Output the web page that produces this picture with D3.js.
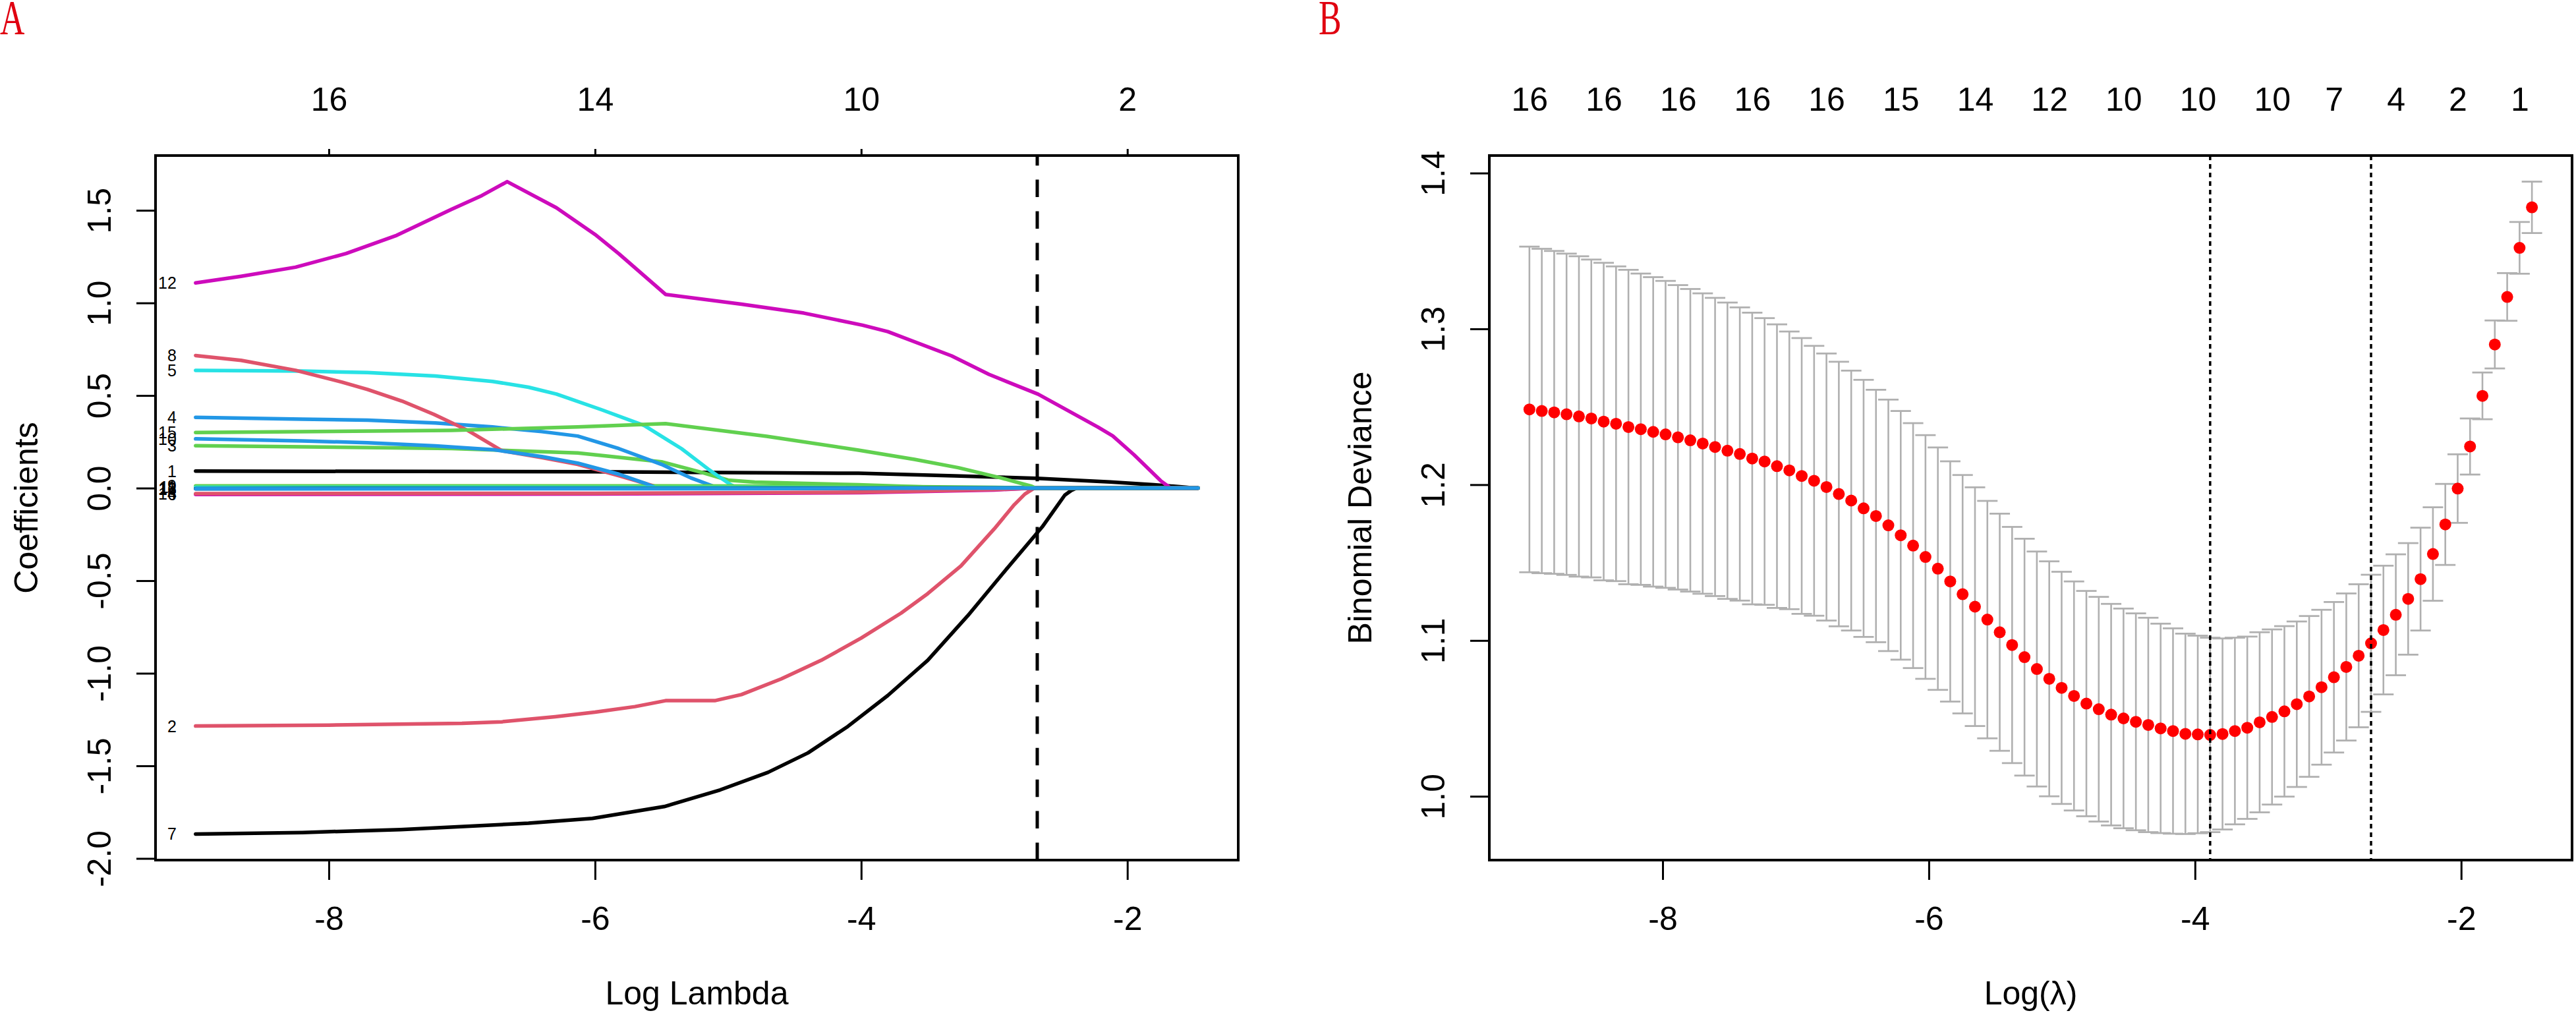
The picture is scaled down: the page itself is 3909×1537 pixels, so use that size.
<!DOCTYPE html>
<html><head><meta charset="utf-8">
<script src="https://cdn.jsdelivr.net/npm/d3@7"></script>
<style>
html,body{margin:0;padding:0;background:#fff;}
svg{display:block;}
text{font-family:"Liberation Sans",Arial,sans-serif;fill:#000;}
</style>
</head><body>
<svg id="c" width="3909" height="1537"></svg>
<script>
// ---------------- DATA ----------------
// log(lambda) sequence (glmnet order, largest lambda first)
const logLambda = [
-1.468,-1.561,-1.654,-1.747,-1.840,-1.933,-2.026,-2.119,-2.212,-2.305,
-2.398,-2.491,-2.584,-2.677,-2.770,-2.863,-2.956,-3.049,-3.142,-3.235,
-3.328,-3.421,-3.514,-3.607,-3.700,-3.793,-3.886,-3.979,-4.072,-4.165,
-4.258,-4.351,-4.444,-4.537,-4.630,-4.723,-4.816,-4.909,-5.002,-5.095,
-5.188,-5.281,-5.374,-5.467,-5.560,-5.653,-5.746,-5.839,-5.932,-6.025,
-6.118,-6.211,-6.304,-6.397,-6.490,-6.583,-6.676,-6.769,-6.862,-6.955,
-7.048,-7.141,-7.234,-7.327,-7.420,-7.513,-7.606,-7.699,-7.792,-7.885,
-7.978,-8.071,-8.164,-8.257,-8.350,-8.443,-8.536,-8.629,-8.722,-8.815,
-8.908,-9.001];
// cross-validated binomial deviance (mean)
const cvm = [
1.378,1.352,1.3205,1.290,1.257,1.2245,1.1975,1.1745,1.1555,1.1394,
1.1267,1.1165,1.1067,1.0982,1.0902,1.0830,1.0764,1.0700,1.0641,1.0591,
1.0545,1.0509,1.0475,1.0440,1.0419,1.0400,1.0394,1.0397,1.0401,1.0419,
1.0436,1.0458,1.0478,1.0500,1.0524,1.0559,1.0595,1.0644,1.0696,1.0754,
1.0817,1.0893,1.0971,1.1053,1.1134,1.1217,1.1297,1.1379,1.1461,1.1536,
1.1609,1.1675,1.1739,1.1799,1.1848,1.1898,1.1940,1.1985,1.2025,1.2056,
1.2092,1.2119,1.2149,1.2168,1.2197,1.2218,1.2242,1.2264,1.2285,1.2304,
1.2323,1.2339,1.2356,1.2370,1.2391,1.2405,1.2425,1.2438,1.2452,1.2464,
1.2473,1.2483];
// standard error of cv deviance
const cvsd = [
0.0165,0.0166,0.0153,0.0154,0.0150,0.0180,0.0220,0.0260,0.0300,0.0330,
0.0358,0.0388,0.0413,0.0440,0.0459,0.0472,0.0483,0.0497,0.0516,0.0531,
0.0547,0.0562,0.0578,0.0585,0.0599,0.0613,0.0624,0.0634,0.0643,0.0659,
0.0672,0.0688,0.0696,0.0705,0.0711,0.0721,0.0723,0.0735,0.0745,0.0754,
0.0754,0.0760,0.0758,0.0761,0.0762,0.0766,0.0765,0.0771,0.0778,0.0782,
0.0786,0.0798,0.0807,0.0810,0.0825,0.0834,0.0849,0.0857,0.0866,0.0885,
0.0891,0.0910,0.0920,0.0936,0.0941,0.0951,0.0957,0.0964,0.0971,0.0977,
0.0985,0.0993,0.0999,0.1009,0.1010,0.1019,0.1020,0.1028,0.1031,0.1036,
0.1041,0.1045];
// top axis of panel B: indices into logLambda and number of non-zero coefs
const topIdxB = [81,75,69,63,57,51,45,39,33,27,21,16,11,6,1];
const topNzB  = ["16","16","16","16","16","15","14","12","10","10","10","7","4","2","1"];
// panel A axes
const topTicksA = [-8,-6,-4,-2];
const topNzA = ["16","14","10","2"];
const xTicks = [-8,-6,-4,-2];
const yTicksA = [-2.0,-1.5,-1.0,-0.5,0.0,0.5,1.0,1.5];
const yTicksB = [1.0,1.1,1.2,1.3,1.4];

// coefficient paths [logLambda, coefficient] per variable
const beta1 = [[-9.001,0.092],[-6.0,0.088],[-4.02,0.08],[-3.3,0.066],[-2.68,0.053],[-2.13,0.033],[-1.8,0.018],[-1.56,0.005],[-1.5,0],[-1.468,0]];
const beta2 = [[-9.001,-1.285],[-8.0,-1.28],[-7.0,-1.27],[-6.7,-1.262],[-6.3,-1.235],[-6.0,-1.21],[-5.7,-1.18],[-5.47,-1.148],[-5.1,-1.148],[-4.9,-1.115],[-4.6,-1.03],[-4.3,-0.93],[-4.0,-0.81],[-3.7,-0.675],[-3.5,-0.57],[-3.25,-0.42],[-3.0,-0.22],[-2.85,-0.09],[-2.77,-0.032],[-2.70,0],[-1.468,0]];
const beta3 = [[-9.001,0.229],[-7.08,0.214],[-6.13,0.19],[-5.5,0.142],[-5.2,0.085],[-5.0,0.043],[-4.8,0.032],[-4.02,0.018],[-3.5,0.006],[-3.3,0],[-1.468,0]];
const beta4 = [[-9.001,0.382],[-8.2,0.372],[-7.71,0.367],[-7.2,0.352],[-6.77,0.330],[-6.4,0.305],[-6.13,0.281],[-5.82,0.213],[-5.5,0.128],[-5.28,0.055],[-5.11,0.01],[-5.06,0],[-1.468,0]];
const beta5 = [[-9.001,0.636],[-8.2,0.632],[-7.71,0.624],[-7.2,0.605],[-6.77,0.576],[-6.5,0.545],[-6.29,0.508],[-5.95,0.423],[-5.63,0.338],[-5.35,0.213],[-5.15,0.103],[-4.98,0.018],[-4.93,0],[-1.468,0]];
const beta6 = [[-9.001,-0.034],[-6.0,-0.032],[-4.0,-0.025],[-3.0,-0.01],[-2.7,0],[-1.468,0]];
const beta7 = [[-9.001,-1.868],[-8.2,-1.86],[-7.46,-1.844],[-6.5,-1.81],[-6.02,-1.784],[-5.48,-1.72],[-5.06,-1.63],[-4.7,-1.535],[-4.4,-1.43],[-4.1,-1.287],[-3.8,-1.12],[-3.5,-0.93],[-3.2,-0.69],[-2.9,-0.43],[-2.64,-0.21],[-2.47,-0.038],[-2.42,-0.012],[-2.38,0],[-1.468,0]];
const beta8 = [[-9.001,0.716],[-8.66,0.69],[-8.25,0.636],[-7.9,0.572],[-7.71,0.533],[-7.45,0.47],[-7.21,0.398],[-6.96,0.313],[-6.70,0.202],[-6.4,0.165],[-6.13,0.128],[-5.82,0.067],[-5.6,0.02],[-5.5,0],[-1.468,0]];
const beta9 = [[-9.001,0.012],[-6.0,0.012],[-4.0,0.010],[-3.0,0.004],[-2.7,0],[-1.468,0]];
const beta10 = [[-9.001,0.266],[-8.2,0.255],[-7.71,0.245],[-7.2,0.228],[-6.77,0.208],[-6.4,0.17],[-6.13,0.135],[-5.82,0.075],[-5.62,0.025],[-5.54,0],[-1.468,0]];
const beta11 = [[-9.001,0.004],[-5.0,0.003],[-3.5,0],[-1.468,0]];
const beta12 = [[-9.001,1.108],[-8.66,1.144],[-8.25,1.193],[-7.87,1.267],[-7.49,1.365],[-7.08,1.505],[-6.85,1.58],[-6.66,1.655],[-6.29,1.514],[-6.0,1.37],[-5.82,1.265],[-5.47,1.046],[-4.9,0.993],[-4.43,0.945],[-3.99,0.88],[-3.8,0.845],[-3.32,0.714],[-3.04,0.614],[-2.67,0.507],[-2.22,0.329],[-2.11,0.282],[-1.95,0.18],[-1.75,0.04],[-1.675,0],[-1.468,0]];
const beta13 = [[-9.001,-0.003],[-5.0,-0.002],[-3.5,0],[-1.468,0]];
const beta14 = [[-9.001,-0.030],[-6.0,-0.028],[-4.0,-0.022],[-3.0,-0.008],[-2.7,0],[-1.468,0]];
const beta15 = [[-9.001,0.30],[-7.08,0.312],[-6.13,0.33],[-5.47,0.348],[-4.71,0.28],[-4.02,0.205],[-3.6,0.155],[-3.27,0.11],[-2.95,0.055],[-2.72,0.01],[-2.69,0],[-1.468,0]];
const beta16 = [[-9.001,-0.004],[-5.0,-0.003],[-3.0,0],[-1.468,0]];
const varNames = ["1","2","3","4","5","6","7","8","9","10","11","12","13","14","15","16"];
const palette = ["#000000","#DF536B","#61D04F","#2297E6","#28E2E5","#CD0BBC"];

// ---------------- DRAW ----------------
const betas = [beta1,beta2,beta3,beta4,beta5,beta6,beta7,beta8,beta9,beta10,beta11,beta12,beta13,beta14,beta15,beta16];
const svg = d3.select("#c");
svg.append("rect").attr("width",3909).attr("height",1537).attr("fill","#fff");
const FS = 50;
const boxA = {l:236, r:1879, t:236, b:1305};
const boxB = {l:2260, r:3903, t:236, b:1305};
function pad(e){ const d=(e[1]-e[0])*0.04; return [e[0]-d, e[1]+d]; }
const fmt1 = d => d3.format(".1f")(d).replace("\u2212","-");
const fmt0 = d => String(d).replace("\u2212","-");

// ===== Panel A =====
const xA = d3.scaleLinear().domain(pad(d3.extent(logLambda))).range([boxA.l, boxA.r]);
const yA = d3.scaleLinear().domain(pad(d3.extent(betas.flat().map(p=>p[1])))).range([boxA.b, boxA.t]);
const gA = svg.append("g");
const line = d3.line().x(d=>xA(d[0])).y(d=>yA(d[1]));
betas.forEach((b,i)=>{
  gA.append("path").attr("d", line(b)).attr("fill","none")
    .attr("stroke", palette[i%6]).attr("stroke-width",5.5)
    .attr("stroke-linejoin","round").attr("stroke-linecap","round");
});
betas.forEach((b,i)=>{
  gA.append("text").attr("x", xA(b[0][0]) - 29).attr("y", yA(b[0][1]))
    .attr("dy","0.36em").attr("text-anchor","end").attr("font-size",25).text(varNames[i]);
});
// lambda.1se dashed line (computed by 1-SE rule)
const minIdx = d3.minIndex(cvm);
const thr = cvm[minIdx] + cvsd[minIdx];
let seIdx = minIdx;
for (let k=0;k<cvm.length;k++){ if (cvm[k] <= thr){ seIdx = k; break; } }
gA.append("line").attr("x1", xA(logLambda[seIdx])).attr("x2", xA(logLambda[seIdx]))
  .attr("y1", boxA.b).attr("y2", boxA.t).attr("stroke","#000").attr("stroke-width",5)
  .attr("stroke-dasharray","26.5,21.4");

function styleAxis(g, w){
  g.select(".domain").remove();
  g.selectAll(".tick line").attr("stroke","#000").attr("stroke-width",w);
  g.selectAll("text").attr("font-size",FS).attr("font-family","Liberation Sans, Arial, sans-serif").attr("fill","#000");
}
// bottom
const axBA = gA.append("g").attr("transform",`translate(0,${boxA.b})`)
  .call(d3.axisBottom(xA).tickValues(xTicks).tickSize(30).tickPadding(40).tickFormat(fmt0));
styleAxis(axBA,3);
// left
const axLA = gA.append("g").attr("transform",`translate(${boxA.l},0)`)
  .call(d3.axisLeft(yA).tickValues(yTicksA).tickSize(29).tickFormat(fmt1));
styleAxis(axLA,3);
axLA.selectAll("text").attr("x",null).attr("dy",null).attr("text-anchor","middle")
  .attr("transform","translate(-68,0) rotate(-90)");
// top
const axTA = gA.append("g").attr("transform",`translate(0,${boxA.t})`)
  .call(d3.axisTop(xA).tickValues(topTicksA).tickSize(10).tickPadding(58).tickFormat((d,i)=>topNzA[i]));
styleAxis(axTA,3);
gA.append("rect").attr("x",boxA.l).attr("y",boxA.t).attr("width",boxA.r-boxA.l).attr("height",boxA.b-boxA.t)
  .attr("fill","none").attr("stroke","#000").attr("stroke-width",4);
gA.append("text").attr("x",(boxA.l+boxA.r)/2).attr("y",1524).attr("text-anchor","middle").attr("font-size",FS).text("Log Lambda");
gA.append("text").attr("transform",`translate(57,${(boxA.t+boxA.b)/2}) rotate(-90)`).attr("text-anchor","middle").attr("font-size",FS).text("Coefficients");

// ===== Panel B =====
const lo = cvm.map((m,i)=>m-cvsd[i]);
const hi = cvm.map((m,i)=>m+cvsd[i]);
const xB = d3.scaleLinear().domain(pad(d3.extent(logLambda))).range([boxB.l, boxB.r]);
const yB = d3.scaleLinear().domain(pad([d3.min(lo), d3.max(hi)])).range([boxB.b, boxB.t]);
const gB = svg.append("g");
const cap = 15.5;
logLambda.forEach((v,i)=>{
  const x = xB(v);
  gB.append("line").attr("x1",x).attr("x2",x).attr("y1",yB(lo[i])).attr("y2",yB(hi[i]))
    .attr("stroke","#b0b0b0").attr("stroke-width",2.6);
  gB.append("line").attr("x1",x-cap).attr("x2",x+cap).attr("y1",yB(hi[i])).attr("y2",yB(hi[i]))
    .attr("stroke","#b0b0b0").attr("stroke-width",2.8);
  gB.append("line").attr("x1",x-cap).attr("x2",x+cap).attr("y1",yB(lo[i])).attr("y2",yB(lo[i]))
    .attr("stroke","#b0b0b0").attr("stroke-width",2.8);
});
gB.selectAll("circle.pt").data(logLambda).enter().append("circle")
  .attr("cx",d=>xB(d)).attr("cy",(d,i)=>yB(cvm[i])).attr("r",9).attr("fill","#ff0000");
[minIdx, seIdx].forEach(k=>{
  gB.append("line").attr("x1",xB(logLambda[k])).attr("x2",xB(logLambda[k]))
    .attr("y1",boxB.t).attr("y2",boxB.b).attr("stroke","#000").attr("stroke-width",3.5)
    .attr("stroke-dasharray","7,6");
});
const axBB = gB.append("g").attr("transform",`translate(0,${boxB.b})`)
  .call(d3.axisBottom(xB).tickValues(xTicks).tickSize(30).tickPadding(40).tickFormat(fmt0));
styleAxis(axBB,3);
const axLB = gB.append("g").attr("transform",`translate(${boxB.l},0)`)
  .call(d3.axisLeft(yB).tickValues(yTicksB).tickSize(29).tickFormat(fmt1));
styleAxis(axLB,3);
axLB.selectAll("text").attr("x",null).attr("dy",null).attr("text-anchor","middle")
  .attr("transform","translate(-68,0) rotate(-90)");
const axTB = gB.append("g").attr("transform",`translate(0,${boxB.t})`)
  .call(d3.axisTop(xB).tickValues(topIdxB.map(k=>logLambda[k])).tickSize(0).tickPadding(68).tickFormat((d,i)=>topNzB[i]));
styleAxis(axTB,0);
gB.append("rect").attr("x",boxB.l).attr("y",boxB.t).attr("width",boxB.r-boxB.l).attr("height",boxB.b-boxB.t)
  .attr("fill","none").attr("stroke","#000").attr("stroke-width",4);
gB.append("text").attr("x",(boxB.l+boxB.r)/2).attr("y",1524).attr("text-anchor","middle").attr("font-size",FS).text("Log(λ)");
gB.append("text").attr("transform",`translate(2081,${(boxB.t+boxB.b)/2}) rotate(-90)`).attr("text-anchor","middle").attr("font-size",FS).text("Binomial Deviance");

// panel letters
[["A",0],["B",2001]].forEach(([t,x])=>{
  svg.append("text").attr("transform",`translate(${x},52) scale(0.7,1)`)
    .attr("font-family","Liberation Serif, Times New Roman, serif").attr("font-size",74)
    .style("font-family","'Liberation Serif', serif").style("fill","#e00010").text(t);
});
</script>
</body></html>
